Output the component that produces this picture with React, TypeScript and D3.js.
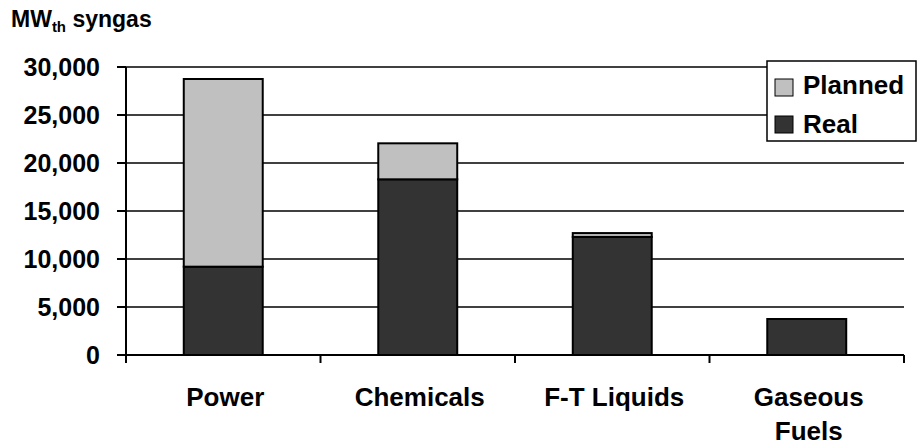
import React from "react";
import * as d3 from "d3";

// Syngas capacity by application (MWth syngas)
const categories: string[][] = [["Power"], ["Chemicals"], ["F-T Liquids"], ["Gaseous", "Fuels"]];
const realValues = [9200, 18300, 12300, 3750];
const plannedValues = [19550, 3750, 400, 0];
const yTicks = [0, 5000, 10000, 15000, 20000, 25000, 30000];
const seriesNames = ["Planned", "Real"];
const seriesColors = ["#C0C0C0", "#333333"];

const W = 917;
const H = 446;
const left = 126;
const right = 904;
const top = 67;
const bottom = 355;
const FONT = "Arial, 'Liberation Sans', sans-serif";

export default function App() {
  const keys = categories.map((c) => c.join(" "));
  const x = d3
    .scaleBand<string>()
    .domain(keys)
    .range([left, right])
    .paddingInner(0.594)
    .paddingOuter(0.297);
  const y = d3.scaleLinear().domain([0, 30000]).range([bottom, top]);
  const step = x.step();
  const fmt = d3.format(",");

  const legend = { x: 767, y: 61, w: 149, h: 80 };

  return (
    <svg
      width={W}
      height={H}
      style={{ position: "absolute", left: 0, top: 0, background: "#fff" }}
      fontFamily={FONT}
      fontWeight="bold"
    >
      {/* title */}
      <text x={11} y={27} fontSize={23}>
        MW
        <tspan fontSize={15} dy={5}>th</tspan>
        <tspan dy={-5}> syngas</tspan>
      </text>

      {/* gridlines */}
      {yTicks.filter((t) => t > 0).map((t) => (
        <line key={t} x1={left} x2={right} y1={y(t)} y2={y(t)} stroke="#000" strokeWidth={1.5} />
      ))}

      {/* bars */}
      {keys.map((k, i) => {
        const x0 = x(k)!;
        const bw = x.bandwidth();
        const real = realValues[i];
        const planned = plannedValues[i];
        return (
          <g key={k}>
            <rect
              x={x0}
              y={y(real)}
              width={bw}
              height={y(0) - y(real)}
              fill={seriesColors[1]}
              stroke="#000"
              strokeWidth={2}
            />
            {planned > 0 && (
              <rect
                x={x0}
                y={y(real + planned)}
                width={bw}
                height={y(real) - y(real + planned)}
                fill={seriesColors[0]}
                stroke="#000"
                strokeWidth={2}
              />
            )}
          </g>
        );
      })}

      {/* y axis */}
      <line x1={left} x2={left} y1={top} y2={bottom + 8} stroke="#000" strokeWidth={2} />
      {yTicks.map((t) => (
        <g key={t}>
          <line x1={left - 9} x2={left} y1={y(t)} y2={y(t)} stroke="#000" strokeWidth={2} />
          <text x={100} y={y(t) + 9} fontSize={25} textAnchor="end">
            {fmt(t)}
          </text>
        </g>
      ))}

      {/* x axis */}
      <line x1={left} x2={right} y1={bottom} y2={bottom} stroke="#000" strokeWidth={2} />
      {keys.map((k, i) => {
        const bx = left + step * (i + 1);
        return <line key={k} x1={bx} x2={bx} y1={bottom} y2={bottom + 8} stroke="#000" strokeWidth={2} />;
      })}
      {categories.map((lines, i) => {
        const cx = x(keys[i])! + x.bandwidth() / 2 + 2;
        return (
          <text key={i} x={cx} y={406} fontSize={26} textAnchor="middle">
            {lines.map((ln, j) => (
              <tspan key={j} x={cx} dy={j === 0 ? 0 : 34}>
                {ln}
              </tspan>
            ))}
          </text>
        );
      })}

      {/* legend */}
      <rect x={legend.x} y={legend.y} width={legend.w} height={legend.h} fill="#fff" stroke="#000" strokeWidth={1.5} />
      {seriesNames.map((name, i) => (
        <g key={name}>
          <rect
            x={775}
            y={79 + i * 37}
            width={18}
            height={17}
            fill={seriesColors[i]}
            stroke="#000"
            strokeWidth={1}
          />
          <text x={803} y={94 + i * 39} fontSize={26}>
            {name}
          </text>
        </g>
      ))}
    </svg>
  );
}
